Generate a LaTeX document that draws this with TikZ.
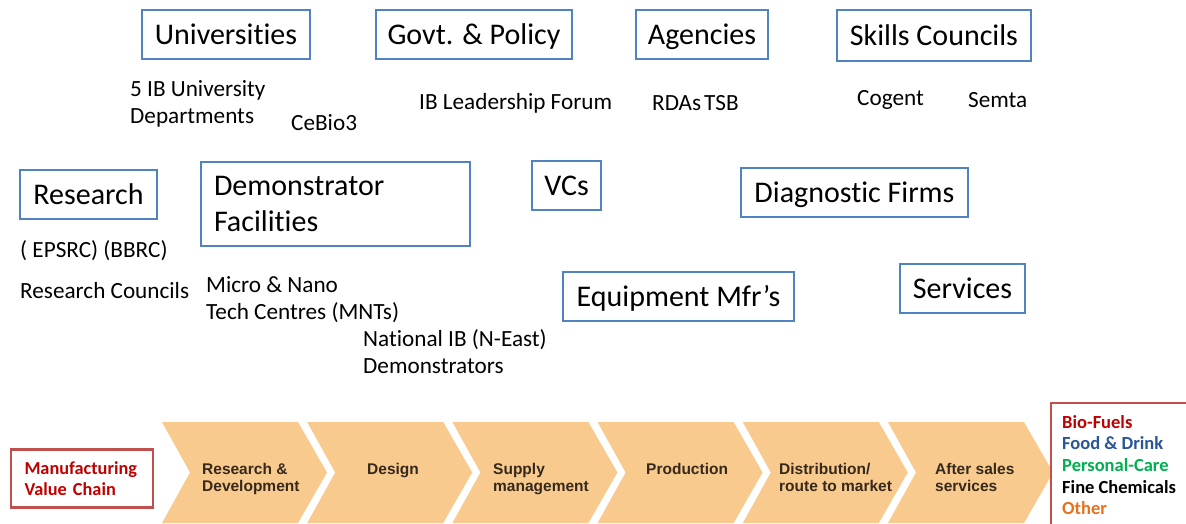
\documentclass[tikz,border=0pt]{standalone}
\usepackage{fontspec}
\setmainfont{Carlito}[Ligatures={NoCommon}]
\newfontfamily\arialfont{Liberation Sans}
\definecolor{boxblue}{HTML}{5283C1}
\definecolor{chainred}{HTML}{C0504D}
\definecolor{chev}{HTML}{F8CA8E}
\definecolor{chevtext}{HTML}{36291C}
\definecolor{biored}{HTML}{C00000}
\definecolor{foodblue}{HTML}{2A5597}
\definecolor{caregreen}{HTML}{00B050}
\definecolor{otherorange}{HTML}{E8711C}
\tikzset{
  bluebox/.style={draw=boxblue, line width=2.6pt, rectangle, inner sep=0pt,
    font=\fontsize{30}{36}\selectfont, text=black},
  onebox/.style={bluebox, text height=25.5pt, text depth=6.2pt},
  smalltext/.style={inner sep=0pt, font=\fontsize{23.2}{27}\selectfont, align=left, text=black},
  chevlabel/.style={inner sep=0pt, anchor=north west, align=left, text=chevtext,
    font=\arialfont\bfseries\fontsize{15.5}{17}\selectfont},
}
\begin{document}
\begin{tikzpicture}[x=1pt,y=-1pt]
\useasboundingbox (0,0) rectangle (1186,523);
\clip (0,0) rectangle (1186,523);
% top row boxes
\node[onebox, minimum width=168pt, minimum height=49pt] (univ) at (226,34.5) {Universities};
\node[onebox, minimum width=196pt, minimum height=49pt] (govt) at (474,34.5) {Govt. \& Policy};
\node[onebox, minimum width=132pt, minimum height=49pt] (agen) at (702,34.5) {Agencies};
\node[onebox, minimum width=194pt, minimum height=51pt] (skills) at (934,35.5) {Skills Councils};
% top row sub-texts
\node[smalltext, anchor=west] (ib5) at (130,103.5) {5 IB University\\Departments};
\node[smalltext, anchor=west] (cebio) at (291,123) {CeBio3};
\node[smalltext, anchor=west] (iblf) at (419,103) {IB Leadership Forum};
\node[smalltext, anchor=west] (rdas) at (652,103) {RDAs};
\node[smalltext, anchor=west] (tsb) at (704,103) {TSB};
\node[smalltext, anchor=west] (cogent) at (857,100) {Cogent};
\node[smalltext, anchor=west] (semta) at (968,100) {Semta};
% middle boxes
\node[onebox, minimum width=137pt, minimum height=49pt] (res) at (88.5,194.5) {Research};
\node[bluebox, minimum width=269pt, minimum height=84pt, align=left,
      text width=243pt, inner xsep=13pt] (demo) at (335.5,204) {Demonstrator\\Facilities};
\node[onebox, minimum width=69pt, minimum height=49pt] (vcs) at (566.5,185.5) {VCs};
\node[onebox, minimum width=227pt, minimum height=49pt] (diag) at (854.5,192.5) {Diagnostic Firms};
\node[onebox, minimum width=231pt, minimum height=49pt] (equip) at (678.5,296.5) {Equipment Mfr’s};
\node[onebox, minimum width=125pt, minimum height=49pt] (serv) at (962.5,288.5) {Services};
% middle sub-texts
\node[smalltext, anchor=west] (epsrc) at (20,251) {( EPSRC) (BBRC)};
\node[smalltext, anchor=west] (rc) at (20,291) {Research Councils};
\node[smalltext, anchor=west] (mnt) at (206,299.5) {Micro \& Nano\\Tech Centres (MNTs)};
\node[smalltext, anchor=west] (nib) at (363,352) {National IB (N-East)\\Demonstrators};
% value chain chevrons
\foreach \i in {0,...,5}{
  \pgfmathsetmacro{\L}{162+145.2*\i}
  \fill[chev] (\L,422) -- ({\L+136},422) -- ({\L+165},472.5) -- ({\L+136},523)
     -- (\L,523) -- ({\L+28},472.5) -- cycle;
}
\node[chevlabel] (rd) at (202,463) {Research \&\\Development};
\node[chevlabel] (design) at (367,463) {Design};
\node[chevlabel] (supply) at (493,463) {Supply\\management};
\node[chevlabel] (prod) at (646,463) {Production};
\node[chevlabel] (dist) at (779,463) {Distribution/\\route to market};
\node[chevlabel] (after) at (935,463) {After sales\\services};
% manufacturing value chain box
\node[draw=chainred, fill=white, line width=2.6pt, minimum width=142pt, minimum height=58pt,
      inner xsep=13.3pt, inner ysep=0pt, text width=115pt, align=left, text=biored,
      font=\bfseries\fontsize{18.3}{21}\selectfont] (mvc) at (82,478.5) {Manufacturing\\Value Chain};
% legend box
\draw[draw=chainred, fill=white, line width=2.6pt] (1051,403) rectangle (1200,540);
\node[inner sep=0pt, anchor=west, align=left, font=\bfseries\fontsize{18.5}{21.7}\selectfont] (sectors) at (1062,465)
  {\textcolor{biored}{Bio-Fuels}\\
   \textcolor{foodblue}{Food \& Drink}\\
   \textcolor{caregreen}{Personal-Care}\\
   \textcolor{black}{Fine Chemicals}\\
   \textcolor{otherorange}{Other}};
\end{tikzpicture}
\end{document}
